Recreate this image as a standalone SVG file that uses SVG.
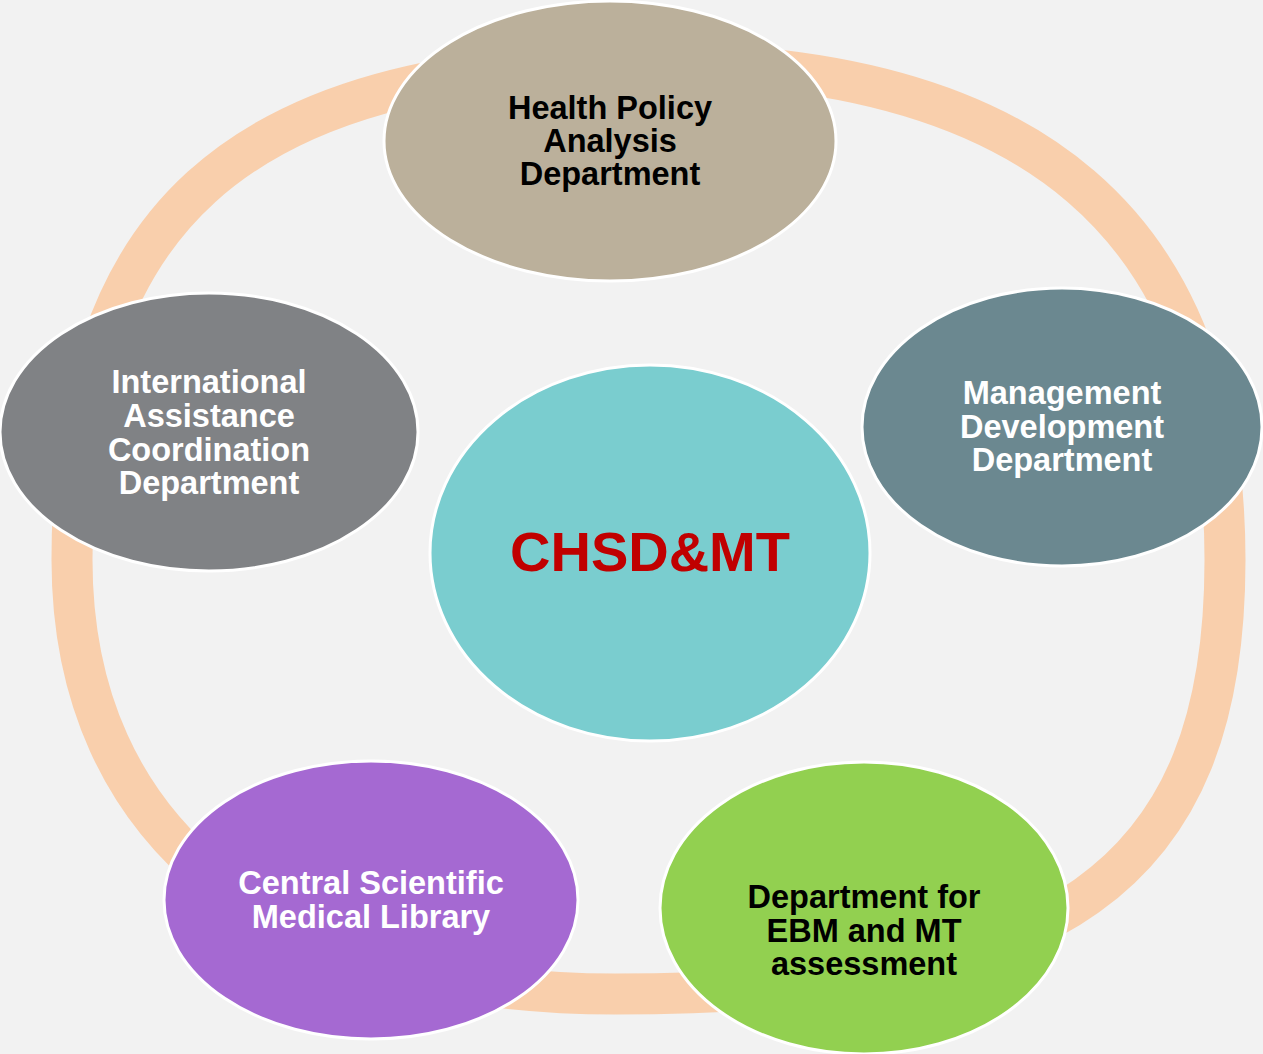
<svg xmlns="http://www.w3.org/2000/svg" width="1263" height="1054" viewBox="0 0 1263 1054">
<style>
.n{stroke:#ffffff;stroke-width:3}
.t{font-family:"Liberation Sans",Arial,sans-serif;font-weight:bold;font-size:32.5px;text-anchor:middle}
.w{fill:#ffffff}
.b{fill:#000000}
.big{font-size:56px;fill:#c00000}
</style>
<rect width="1263" height="1054" fill="#f2f2f2"/>
<g id="connectors">
<path d="M648,63 C1034,63 1225,227 1225,560 C1225,877 1060,994 615,994 C273,994 72,833 72,560 C72,228 225,63 648,63 Z" fill="none" stroke="#f9cfac" stroke-width="41"/>
</g>
<g id="top">
<ellipse class="n" cx="610" cy="141" rx="226" ry="140" fill="#bbb09b"/>
<text class="t b" x="610" y="119">Health Policy</text>
<text class="t b" x="610" y="152">Analysis</text>
<text class="t b" x="610" y="185">Department</text>
</g>
<g id="right">
<ellipse class="n" cx="1062" cy="427" rx="200" ry="139" fill="#6b8890"/>
<text class="t w" x="1062" y="404">Management</text>
<text class="t w" x="1062" y="438">Development</text>
<text class="t w" x="1062" y="471">Department</text>
</g>
<g id="left">
<ellipse class="n" cx="209" cy="432" rx="209" ry="139" fill="#808285"/>
<text class="t w" x="209" y="393">International</text>
<text class="t w" x="209" y="427">Assistance</text>
<text class="t w" x="209" y="461">Coordination</text>
<text class="t w" x="209" y="494">Department</text>
</g>
<g id="center">
<ellipse class="n" cx="650" cy="553" rx="220" ry="188" fill="#7acdcf"/>
<text class="t big" x="650" y="571">CHSD&amp;MT</text>
</g>
<g id="bottomleft">
<ellipse class="n" cx="371" cy="900" rx="207" ry="139" fill="#a569d2"/>
<text class="t w" x="371" y="894">Central Scientific</text>
<text class="t w" x="371" y="928">Medical Library</text>
</g>
<g id="bottomright">
<ellipse class="n" cx="864" cy="908" rx="204" ry="146" fill="#92d050"/>
<text class="t b" x="864" y="908">Department for</text>
<text class="t b" x="864" y="942">EBM and MT</text>
<text class="t b" x="864" y="975">assessment</text>
</g>
</svg>
